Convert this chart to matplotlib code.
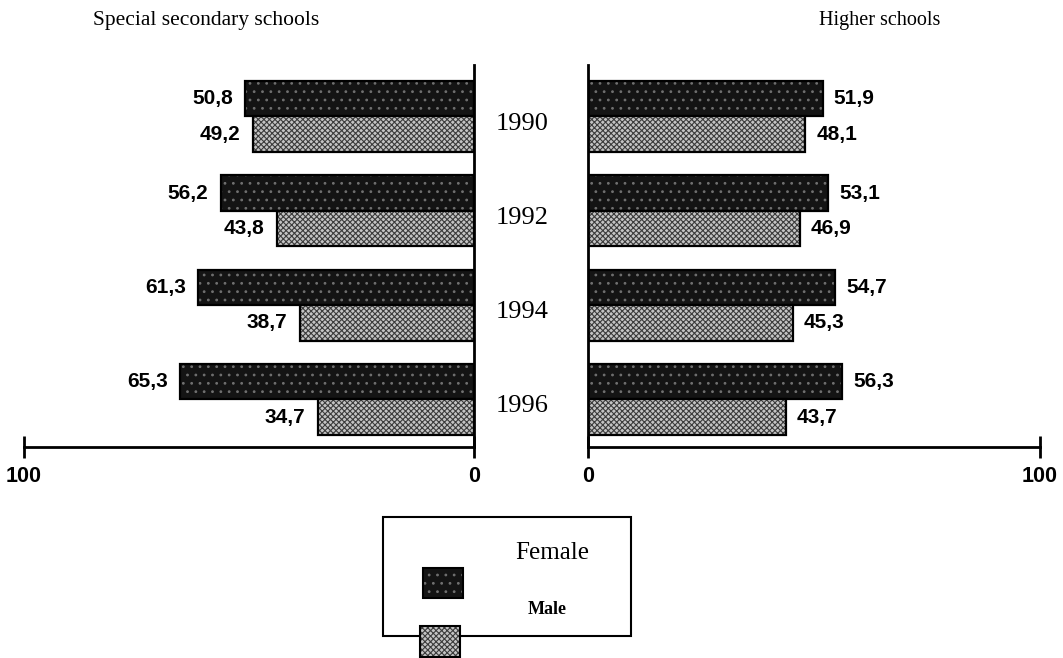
import matplotlib
matplotlib.use("Agg")
import matplotlib.pyplot as plt
from matplotlib.patches import Rectangle
from matplotlib.transforms import blended_transform_factory

years = ["1990", "1992", "1994", "1996"]
secondary_female = [50.8, 56.2, 61.3, 65.3]
secondary_male = [49.2, 43.8, 38.7, 34.7]
higher_female = [51.9, 53.1, 54.7, 56.3]
higher_male = [48.1, 46.9, 45.3, 43.7]
labels_sec_f = ["50,8", "56,2", "61,3", "65,3"]
labels_sec_m = ["49,2", "43,8", "38,7", "34,7"]
labels_hi_f = ["51,9", "53,1", "54,7", "56,3"]
labels_hi_m = ["48,1", "46,9", "45,3", "43,7"]

W, H = 1063, 658
plt.rcParams['hatch.linewidth'] = 0.8
fig = plt.figure(figsize=(W / 100, H / 100), dpi=100)

SERIF = ["Liberation Serif", "DejaVu Serif"]
SANS = ["Liberation Sans", "DejaVu Sans"]

F_FACE, F_HATCH = "#141414", "#707070"
M_FACE, M_HATCH = "#c4c4c4", "#3c3c3c"
F_H, M_H = "..", "xxxxxx"

def fx(px):
    return px / W

def fy(py):
    return 1 - py / H

ax_top, ax_bot = 65, 447
axL = fig.add_axes([fx(24), fy(ax_bot), fx(450), (ax_bot - ax_top) / H])
axR = fig.add_axes([fx(588), fy(ax_bot), fx(452), (ax_bot - ax_top) / H])

pos = list(range(len(years)))
bh = 0.376
off = 0.188

def draw_bars(ax, fvals, mvals):
    yf = [p - off for p in pos]
    ym = [p + off for p in pos]
    ax.barh(yf, fvals, height=bh, color=F_FACE, lw=0)
    ax.barh(yf, fvals, height=bh, color="none", edgecolor=F_HATCH, hatch=F_H, lw=0)
    ax.barh(yf, fvals, height=bh, fill=False, edgecolor="black", lw=1.6)
    ax.barh(ym, mvals, height=bh, color=M_FACE, lw=0)
    ax.barh(ym, mvals, height=bh, color="none", edgecolor=M_HATCH, hatch=M_H, lw=0)
    ax.barh(ym, mvals, height=bh, fill=False, edgecolor="black", lw=1.6)
    return yf, ym

for ax in (axL, axR):
    ax.set_ylim(3.505, -0.546)
    ax.set_yticks([])
    for s in ax.spines.values():
        s.set_visible(False)
    ax.spines['bottom'].set_visible(True)
    ax.spines['bottom'].set_linewidth(2)
    ax.tick_params(axis='x', direction='inout', length=16, width=2, pad=6,
                   labelsize=15.5)
    ax.set_xticks([0, 100])
    ax.set_xticklabels(["0", "100"], fontfamily=SANS, fontweight="bold")
    ax.patch.set_alpha(0)

axL.set_xlim(100, 0)
axR.set_xlim(0, 100)
axL.spines['right'].set_visible(True)
axL.spines['right'].set_linewidth(2)
axR.spines['left'].set_visible(True)
axR.spines['left'].set_linewidth(2)

LBL = dict(fontsize=15, fontfamily=SANS, fontweight="bold", va="center")

yf, ym = draw_bars(axL, secondary_female, secondary_male)
for y, v, t in zip(yf, secondary_female, labels_sec_f):
    axL.annotate(t, (v, y), xytext=(-9, 0), textcoords="offset points", ha="right", **LBL)
for y, v, t in zip(ym, secondary_male, labels_sec_m):
    axL.annotate(t, (v, y), xytext=(-9, 0), textcoords="offset points", ha="right", **LBL)

yf, ym = draw_bars(axR, higher_female, higher_male)
for y, v, t in zip(yf, higher_female, labels_hi_f):
    axR.annotate(t, (v, y), xytext=(8, 0), textcoords="offset points", ha="left", **LBL)
for y, v, t in zip(ym, higher_male, labels_hi_m):
    axR.annotate(t, (v, y), xytext=(8, 0), textcoords="offset points", ha="left", **LBL)

trans = blended_transform_factory(fig.transFigure, axL.transData)
for p, yr in zip(pos, years):
    fig.text(fx(522), p + 0.075, yr, transform=trans, ha="center", va="center",
             fontsize=19, fontfamily=SERIF)

fig.text(fx(206), fy(20), "Special secondary schools", ha="center", va="center",
         fontsize=15.5, fontfamily=SERIF)
fig.text(fx(880), fy(20), "Higher schools", ha="center", va="center",
         fontsize=14.5, fontfamily=SERIF)

# legend
fig.add_artist(Rectangle((fx(383), fy(636)), fx(631 - 383), (636 - 517) / H,
                         transform=fig.transFigure, fill=False, edgecolor="black", lw=1.5))
fig.add_artist(Rectangle((fx(423), fy(598)), fx(40), 30 / H, transform=fig.transFigure,
                         facecolor=F_FACE, edgecolor=F_HATCH, hatch=F_H, lw=0))
fig.add_artist(Rectangle((fx(423), fy(598)), fx(40), 30 / H, transform=fig.transFigure,
                         fill=False, edgecolor="black", lw=1.5))
fig.add_artist(Rectangle((fx(420), fy(657)), fx(40), 31 / H, transform=fig.transFigure,
                         facecolor=M_FACE, edgecolor=M_HATCH, hatch=M_H, lw=0))
fig.add_artist(Rectangle((fx(420), fy(657)), fx(40), 31 / H, transform=fig.transFigure,
                         fill=False, edgecolor="black", lw=1.5))
fig.text(fx(552), fy(553), "Female", ha="center", va="center", fontsize=18, fontfamily=SERIF)
fig.text(fx(547), fy(609), "Male", ha="center", va="center", fontsize=13,
         fontfamily=SERIF, fontweight="bold")

fig.savefig("out.png", dpi=100)
